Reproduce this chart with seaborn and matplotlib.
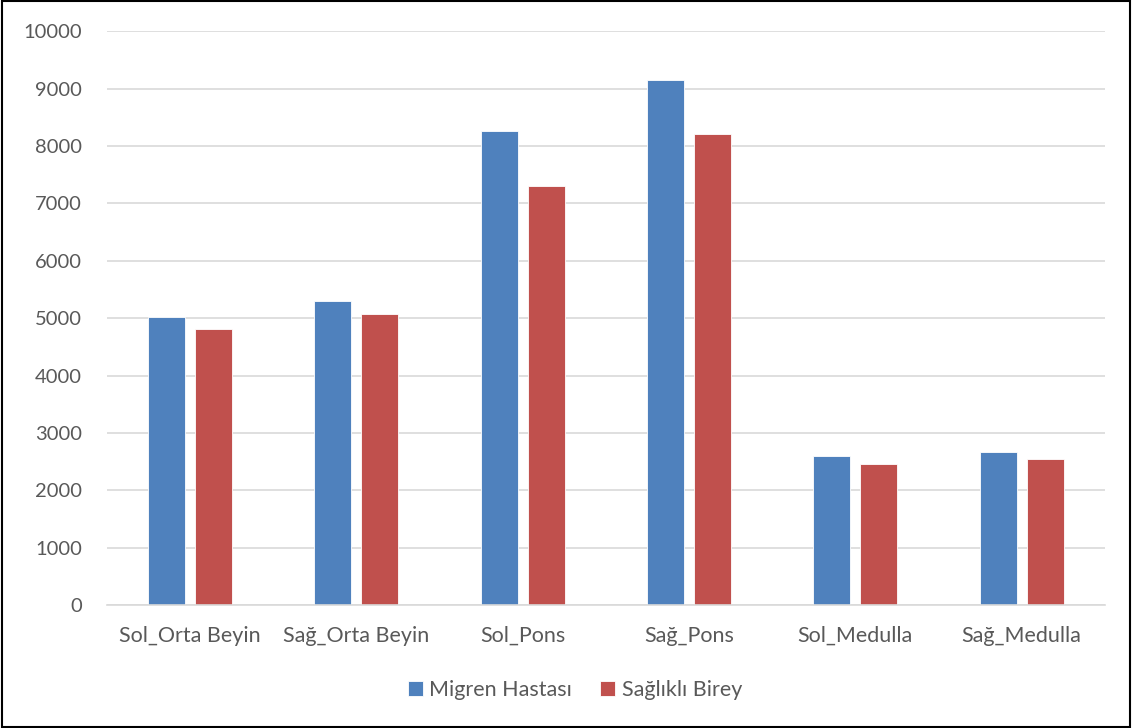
import matplotlib
matplotlib.use("Agg")
import matplotlib.pyplot as plt
from matplotlib.patches import Rectangle
import pandas as pd
import seaborn as sns

regions = ["Sol_Orta Beyin", "Sağ_Orta Beyin", "Sol_Pons", "Sağ_Pons", "Sol_Medulla", "Sağ_Medulla"]
groups = ["Migren Hastası", "Sağlıklı Birey"]
migren = [5020, 5305, 8260, 9150, 2595, 2665]
saglikli = [4810, 5065, 7305, 8205, 2455, 2550]
yticks = list(range(0, 10001, 1000))

df = pd.DataFrame({
    "Bölge": regions * 2,
    "Grup": [groups[0]] * len(regions) + [groups[1]] * len(regions),
    "Değer": migren + saglikli,
})

sns.set_theme(style="white")
plt.rcParams["font.family"] = ["Lato", "DejaVu Sans"]
text_color = "#595959"

fig = plt.figure(figsize=(11.32, 7.28), dpi=100)
ax = fig.add_axes([0.0945, 0.169, 0.8815, 0.788])

sns.barplot(data=df, x="Bölge", y="Değer", hue="Grup", order=regions,
            hue_order=groups, palette=["#4f81bd", "#c0504d"],
            width=0.566, gap=0.213, saturation=1, errorbar=None, ax=ax,
            edgecolor="white", linewidth=0.6)

ax.set_ylim(0, 10000)
ax.set_yticks(yticks)
ax.set_yticklabels([str(t) for t in yticks])
ax.set_xlim(-0.5, len(regions) - 0.5)
ax.yaxis.grid(True, color="#d9d9d9", linewidth=1.2)
ax.set_axisbelow(True)
for side in ["left", "right", "top"]:
    ax.spines[side].set_visible(False)
ax.spines["bottom"].set_color("#d9d9d9")
ax.spines["bottom"].set_linewidth(1.2)
ax.set_xlabel("")
ax.set_ylabel("")
ax.tick_params(axis="both", length=0, colors=text_color)
ax.tick_params(axis="x", pad=15, labelsize=15.5)
ax.tick_params(axis="y", pad=18, labelsize=14.5)

handles, labels = ax.get_legend_handles_labels()
ax.legend_.remove()
fig.legend(handles, labels, loc="center", bbox_to_anchor=(0.508, 0.052), ncol=2,
           frameon=False, fontsize=15.5, handlelength=0.7, handleheight=0.7,
           handletextpad=0.3, columnspacing=1.3, labelcolor=text_color)

fig.patches.append(Rectangle((0.002, 0.002), 0.996, 0.996, transform=fig.transFigure,
                             fill=False, edgecolor="black", linewidth=1.5))

fig.savefig("out.png", dpi=100)
